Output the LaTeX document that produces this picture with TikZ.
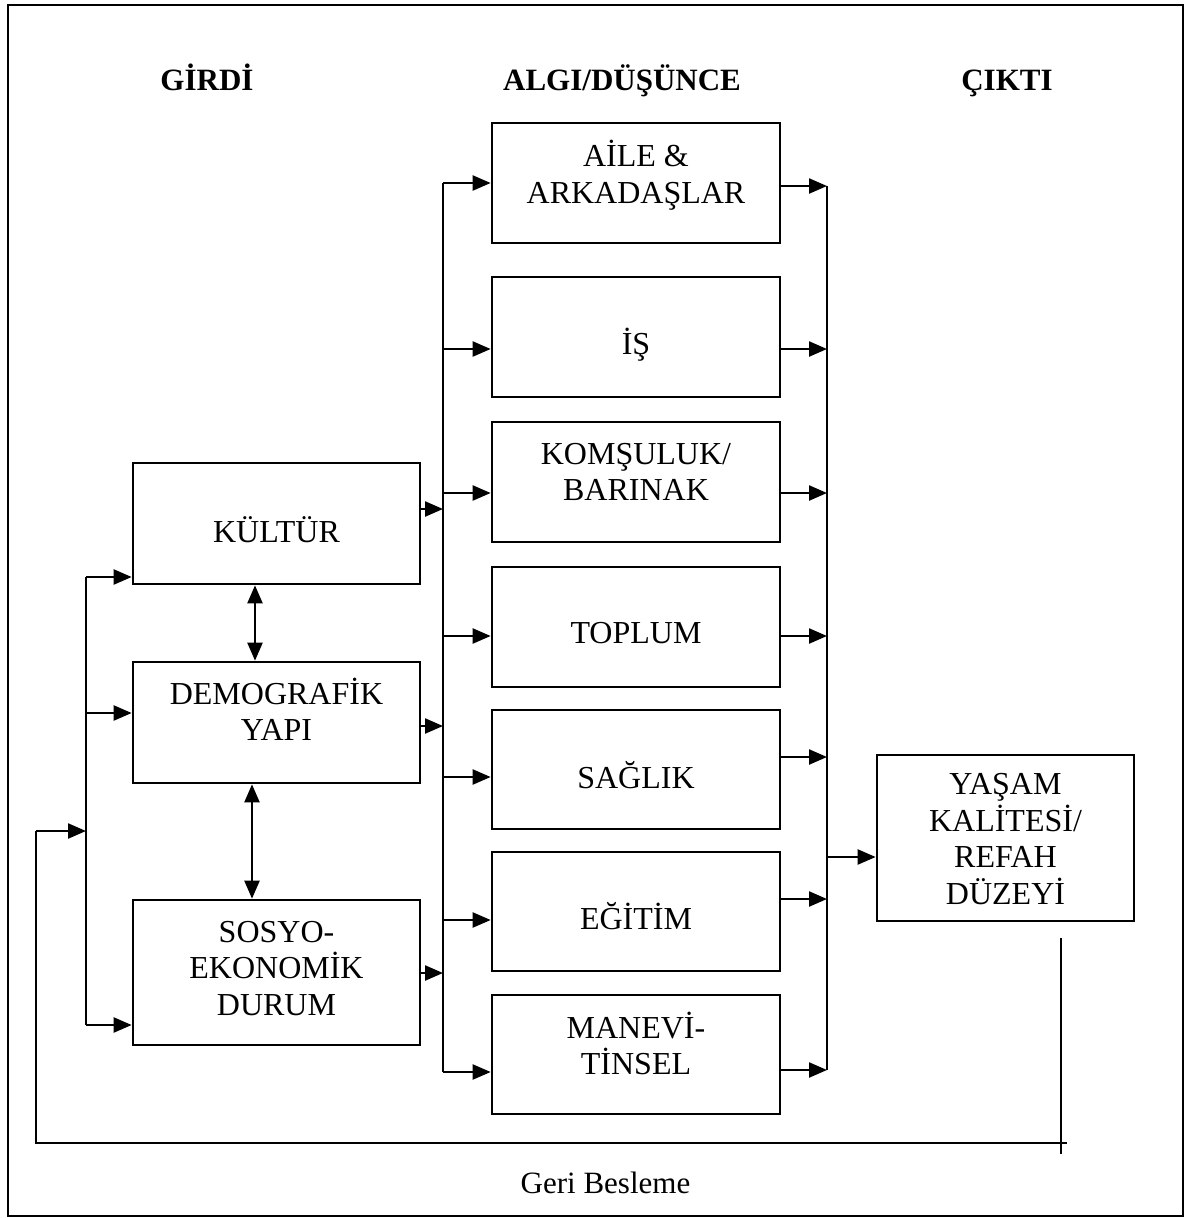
\documentclass[tikz,border=0pt]{standalone}
\usepackage{fontspec}
\setmainfont{Liberation Serif}
\usetikzlibrary{arrows.meta,calc}
\begin{document}
\begin{tikzpicture}[x=1pt,y=-1pt,
  box/.style={draw=black,line width=2.7pt,inner sep=0pt},
  lbox/.style={box,minimum width=287pt},
  mbox/.style={box,minimum width=288pt,minimum height=120pt},
  txt/.style={inner sep=0pt,align=center,font=\fontsize{32}{36.5}\selectfont},
  head/.style={font=\fontsize{31}{36}\selectfont\bfseries,inner sep=0pt,anchor=base},
  plain/.style={font=\fontsize{31}{36}\selectfont,inner sep=0pt,anchor=base},
  ln/.style={line width=2.3pt},
  tip/.tip={Triangle[length=18pt,width=15pt]},
  arr/.style={line width=2.3pt,-tip},
  darr/.style={line width=2.3pt,tip-tip}]
\useasboundingbox (0,0) rectangle (1184,1218);
\draw[line width=2.2pt] (8,5) rectangle (1183,1216);

% headers
\node[head] (h1) at (207,90) {GİRDİ};
\node[head] (h2) at (622,90) {ALGI/DÜŞÜNCE};
\node[head] (h3) at (1007,90) {ÇIKTI};

% left column
\node[lbox,minimum height=121pt] (kul) at (276.5,523.5) {};
\node[lbox,minimum height=121pt] (dem) at (276.5,722.5) {};
\node[lbox,minimum height=145pt] (sos) at (276.5,972.5) {};
\node[txt] (tkul) at ($(kul.center)+(0,6)$) {KÜLTÜR};
\node[txt] (tdem) at ($(dem.center)+(0,-13)$) {DEMOGRAFİK\\YAPI};
\node[txt] (tsos) at ($(sos.center)+(0,-4)$) {SOSYO-\\EKONOMİK\\DURUM};

% middle column
\node[mbox] (aile) at (636,183) {};
\node[mbox] (is) at (636,337) {};
\node[mbox] (kom) at (636,482) {};
\node[mbox] (top) at (636,627) {};
\node[mbox,minimum height=119pt] (sag) at (636,769.5) {};
\node[mbox,minimum height=119pt] (egi) at (636,911.5) {};
\node[mbox,minimum height=119pt] (man) at (636,1054.5) {};
\node[txt] (taile) at ($(aile.center)+(0,-8)$) {AİLE \&\\ARKADAŞLAR};
\node[txt] (tis) at ($(is.center)+(0,8)$) {İŞ};
\node[txt] (tkom) at ($(kom.center)+(0,-10)$) {KOMŞULUK/\\BARINAK};
\node[txt] (ttop) at ($(top.center)+(0,6)$) {TOPLUM};
\node[txt] (tsag) at ($(sag.center)+(0,6)$) {SAĞLIK};
\node[txt] (tegi) at ($(egi.center)+(0,5)$) {EĞİTİM};
\node[txt] (tman) at ($(man.center)+(0,-11)$) {MANEVİ-\\TİNSEL};

% right
\node[box,minimum width=257pt,minimum height=166pt] (yas) at (1005.5,838) {};
\node[txt] (tyas) at ($(yas.center)+(0,1)$) {YAŞAM\\KALİTESİ/\\REFAH\\DÜZEYİ};

\node[plain] (geri) at (605.5,1193) {Geri Besleme};

% left bus
\coordinate (lb1) at (86,577);
\coordinate (lb2) at (86,713);
\coordinate (lb3) at (86,1025);
\coordinate (lbin) at (86,831);
\draw[ln] (lb1) -- (lb3);
\draw[arr] (lb1) -- (lb1 -| kul.west);
\draw[arr] (lb2) -- (lb2 -| dem.west);
\draw[arr] (lb3) -- (lb3 -| sos.west);

% feedback
\coordinate (fbin) at (36,831);
\coordinate (fbl) at (36,1143);
\coordinate (fbr) at (1067,1143);
\coordinate (fbt) at (1061,938);
\coordinate (fbb) at (1061,1154);
\draw[ln] (fbr) -- (fbl) -- (fbin);
\draw[arr] (fbin) -- (lbin);
\draw[ln] (fbt) -- (fbb);

% double arrows
\coordinate (d1) at (255,0);
\coordinate (d2) at (252,0);
\draw[darr] (d1 |- kul.south) -- (d1 |- dem.north);
\draw[darr] (d2 |- dem.south) -- (d2 |- sos.north);

% left boxes to middle bus
\coordinate (mi1) at (443,509);
\coordinate (mi2) at (443,726);
\coordinate (mi3) at (443,973);
\draw[arr] (mi1 -| kul.east) -- (mi1);
\draw[arr] (mi2 -| dem.east) -- (mi2);
\draw[arr] (mi3 -| sos.east) -- (mi3);

% middle bus
\coordinate (m1) at (443,183);
\coordinate (m2) at (443,349);
\coordinate (m3) at (443,493);
\coordinate (m4) at (443,636);
\coordinate (m5) at (443,777);
\coordinate (m6) at (443,920);
\coordinate (m7) at (443,1072);
\draw[ln] (m1) -- (m7);
\draw[arr] (m1) -- (m1 -| aile.west);
\draw[arr] (m2) -- (m2 -| is.west);
\draw[arr] (m3) -- (m3 -| kom.west);
\draw[arr] (m4) -- (m4 -| top.west);
\draw[arr] (m5) -- (m5 -| sag.west);
\draw[arr] (m6) -- (m6 -| egi.west);
\draw[arr] (m7) -- (m7 -| man.west);

% right bus
\coordinate (r1) at (827,186);
\coordinate (r2) at (827,349);
\coordinate (r3) at (827,493);
\coordinate (r4) at (827,636);
\coordinate (r5) at (827,757);
\coordinate (r6) at (827,899);
\coordinate (r7) at (827,1070);
\draw[ln] (r1) -- (r7);
\draw[arr] (r1 -| aile.east) -- (r1);
\draw[arr] (r2 -| is.east) -- (r2);
\draw[arr] (r3 -| kom.east) -- (r3);
\draw[arr] (r4 -| top.east) -- (r4);
\draw[arr] (r5 -| sag.east) -- (r5);
\draw[arr] (r6 -| egi.east) -- (r6);
\draw[arr] (r7 -| man.east) -- (r7);
\coordinate (ry) at (827,857);
\draw[arr] (ry) -- (ry -| yas.west);
\end{tikzpicture}
\end{document}
